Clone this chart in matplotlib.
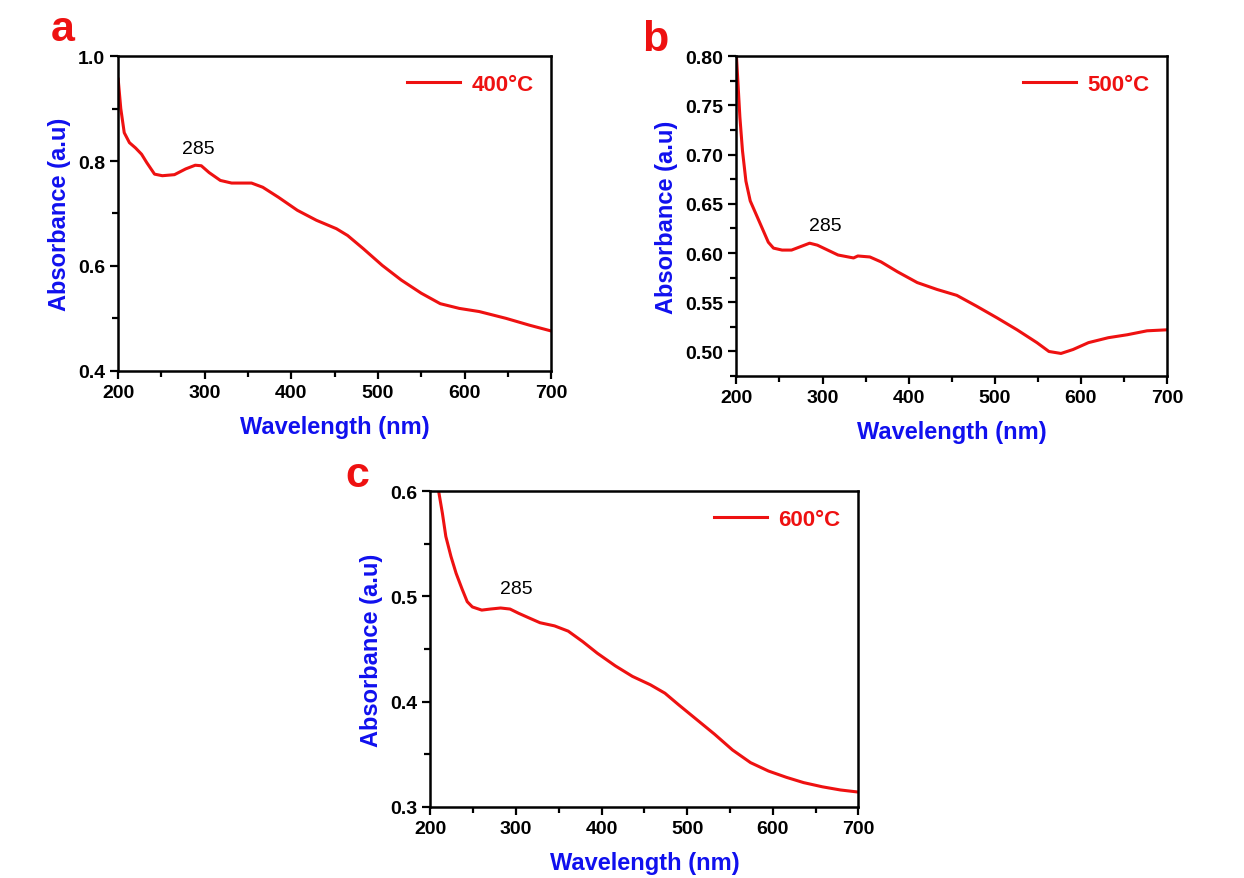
import matplotlib
matplotlib.use("Agg")
import matplotlib.pyplot as plt
from matplotlib.ticker import MultipleLocator

plt.rcParams['font.family'] = ['Liberation Sans', 'DejaVu Sans']

# panel a: 400 C
wl_a = [200, 203, 207, 213, 220, 227, 233, 242, 251, 265, 278, 289, 296, 305, 318, 331, 354, 367,
        385, 407, 429, 452, 465, 483, 505, 527, 550, 572, 594, 617, 648, 675, 700]
abs_a = [0.956, 0.90, 0.854, 0.835, 0.825, 0.813, 0.797, 0.775, 0.772, 0.774, 0.785, 0.792, 0.791,
         0.778, 0.763, 0.758, 0.758, 0.750, 0.731, 0.706, 0.687, 0.671, 0.658, 0.633, 0.601, 0.573,
         0.548, 0.528, 0.519, 0.513, 0.500, 0.487, 0.476]

# panel b: 500 C
wl_b = [200, 202, 204, 207, 211, 216, 223, 230, 237, 243, 253, 264, 276, 285, 294, 306, 318, 336,
        341, 355, 368, 387, 410, 433, 456, 479, 503, 526, 549, 563, 577, 591, 609, 632, 654, 677, 700]
abs_b = [0.800, 0.769, 0.738, 0.704, 0.673, 0.653, 0.639, 0.625, 0.611, 0.605, 0.603, 0.603, 0.607,
         0.610, 0.608, 0.603, 0.598, 0.595, 0.597, 0.596, 0.591, 0.581, 0.570, 0.563, 0.557, 0.546,
         0.534, 0.522, 0.509, 0.500, 0.498, 0.502, 0.509, 0.514, 0.517, 0.521, 0.522]

# panel c: 600 C
wl_c = [209.6, 214, 218, 224, 230, 237, 243, 249, 260, 270, 282, 293, 303, 314, 328, 345, 361, 378,
        395, 416, 436, 457, 474, 490, 511, 532, 553, 574, 595, 616, 636, 658, 679, 700]
abs_c = [0.600, 0.579, 0.557, 0.538, 0.522, 0.507, 0.495, 0.490, 0.487, 0.488, 0.489, 0.488, 0.484,
         0.480, 0.475, 0.472, 0.467, 0.457, 0.446, 0.434, 0.424, 0.416, 0.408, 0.397, 0.383, 0.369,
         0.354, 0.342, 0.334, 0.328, 0.323, 0.319, 0.316, 0.314]

panels = [
    # letter, label, x, y, ylim, major, minor, axes rect, peak label pos, letter pos
    ("a", "400\u00b0C", wl_a, abs_a, (0.4, 1.0), 0.2, 0.1, [0.095, 0.577, 0.348, 0.358], (292, 0.823), (0.05, 0.966)),
    ("b", "500\u00b0C", wl_b, abs_b, (0.475, 0.80), 0.05, 0.025, [0.592, 0.571, 0.346, 0.364], (303, 0.628), (0.527, 0.955)),
    ("c", "600\u00b0C", wl_c, abs_c, (0.3, 0.6), 0.1, 0.05, [0.346, 0.081, 0.344, 0.359], (300, 0.508), (0.287, 0.458)),
]

fig = plt.figure(figsize=(12.44, 8.79), dpi=100)

for letter, lab, x, y, ylim, major, minor, rect, peak, lpos in panels:
    ax = fig.add_axes(rect)
    ax.plot(x, y, color="#ee1111", lw=2.2, label=lab)
    ax.set_xlim(200, 700)
    ax.set_ylim(*ylim)
    ax.xaxis.set_major_locator(MultipleLocator(100))
    ax.xaxis.set_minor_locator(MultipleLocator(50))
    ax.yaxis.set_major_locator(MultipleLocator(major))
    ax.yaxis.set_minor_locator(MultipleLocator(minor))
    ax.tick_params(which="both", direction="out", width=1.6, top=False, right=False)
    ax.tick_params(which="major", length=6, labelsize=14)
    ax.tick_params(which="minor", length=4)
    for t in ax.get_xticklabels() + ax.get_yticklabels():
        t.set_fontweight("bold")
    for s in ax.spines.values():
        s.set_linewidth(1.8)
    ax.set_xlabel("Wavelength (nm)", color="#1010ee", fontsize=17, fontweight="bold", labelpad=10)
    ax.set_ylabel("Absorbance (a.u)", color="#1010ee", fontsize=17, fontweight="bold", labelpad=5)
    ax.text(peak[0], peak[1], "285", fontsize=14, ha="center", va="center")
    leg = ax.legend(loc="upper right", frameon=False, handlelength=2.4, handletextpad=0.5,
                    prop={"weight": "bold", "size": 16}, borderaxespad=0.4)
    for t in leg.get_texts():
        t.set_color("#ee1111")
    fig.text(lpos[0], lpos[1], letter, color="#ee1111", fontsize=31, fontweight="bold",
             ha="center", va="center")

fig.savefig("out.png", dpi=100, facecolor="white")
